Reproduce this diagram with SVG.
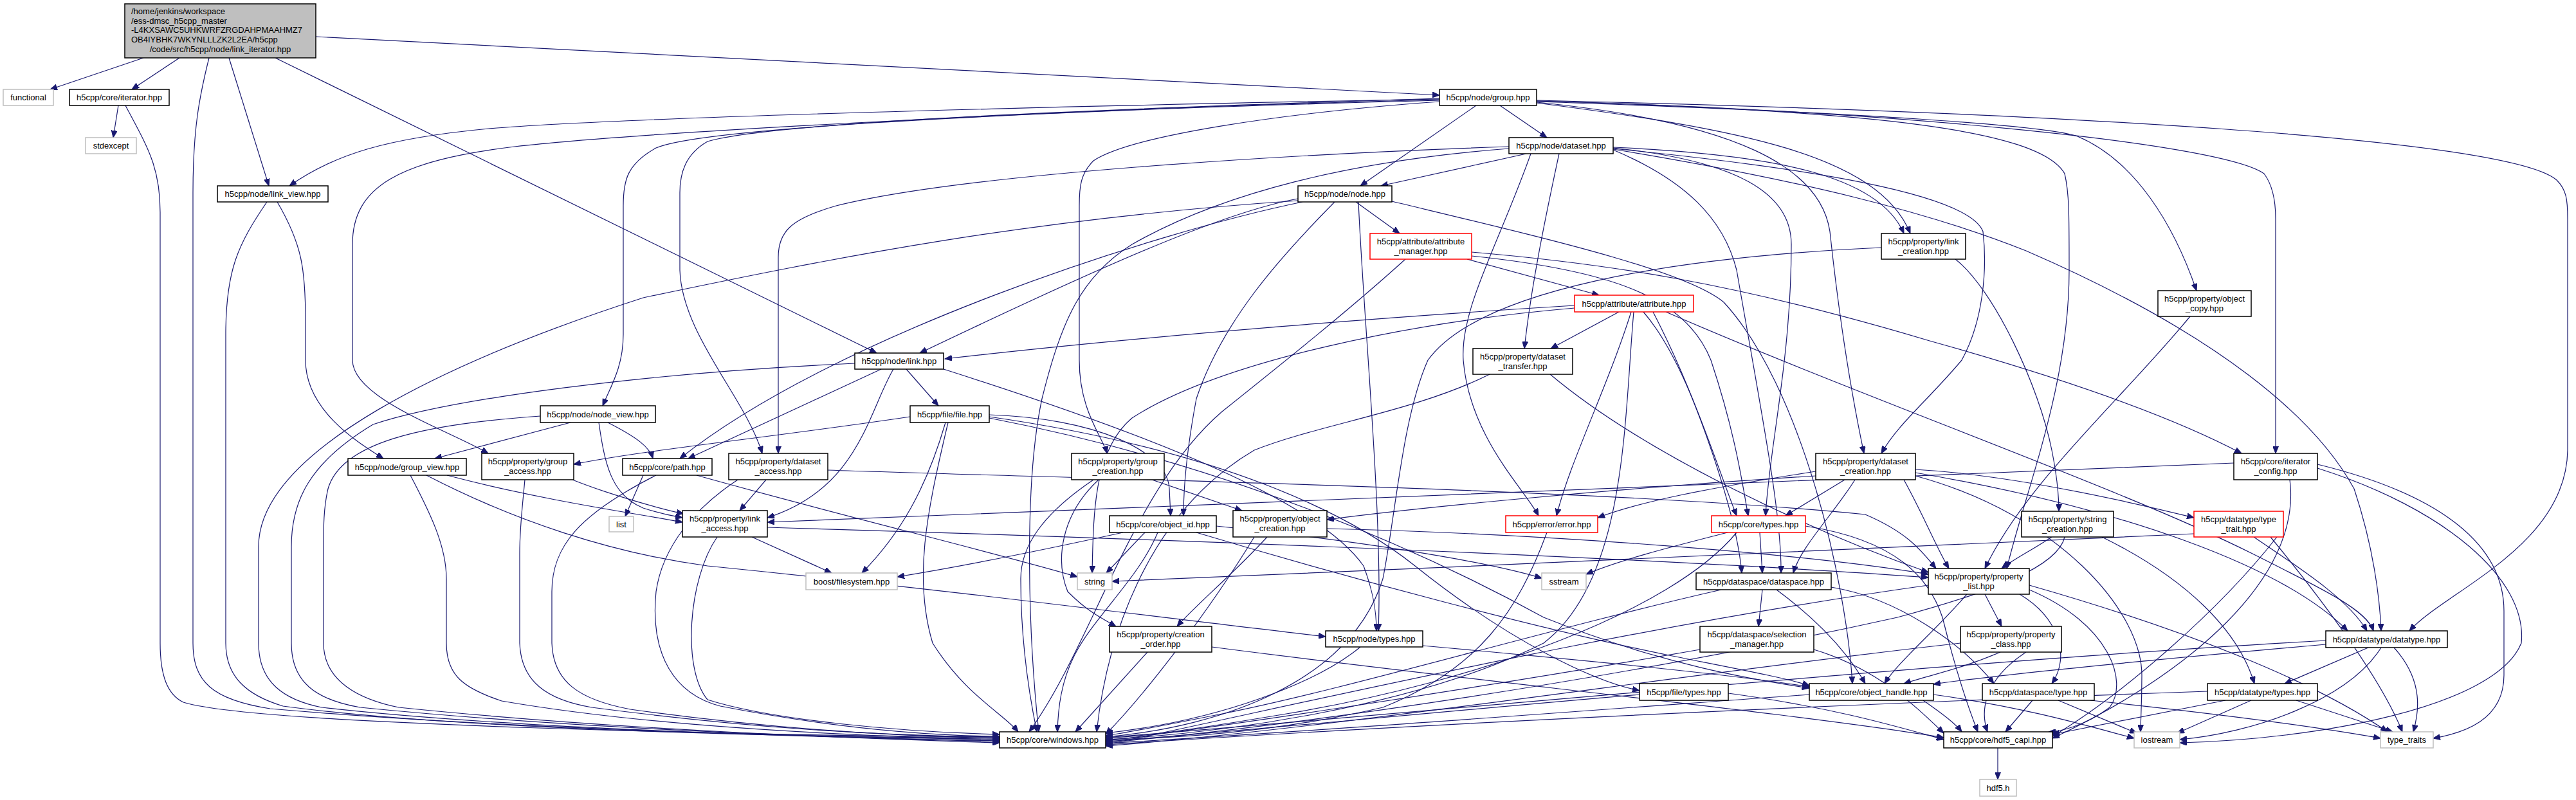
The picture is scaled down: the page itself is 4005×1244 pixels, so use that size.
<svg xmlns="http://www.w3.org/2000/svg" width="4005" height="1244" viewBox="0 0 4005 1244">
<defs>
<marker id="a" markerWidth="12" markerHeight="9" refX="11" refY="4.5" orient="auto" markerUnits="userSpaceOnUse"><path d="M0,0 L11,4.5 L0,9 z" fill="#191970" stroke="#191970" stroke-width="1"/></marker>
<style>
text{font-family:"Liberation Sans",Arial,sans-serif;font-size:13px;fill:#000;text-anchor:middle}
.n rect{fill:#fff;stroke:#000;stroke-width:1.5}
.g rect{fill:#fff;stroke:#bfbfbf;stroke-width:1.5}
.r rect{fill:#fff;stroke:#ff0000;stroke-width:1.5}
.m rect{fill:#bfbfbf;stroke:#000;stroke-width:1.5}
.m text.l{text-anchor:start}
#edges path{fill:none;stroke:#191970;stroke-width:1.2;marker-end:url(#a)}
</style>
</defs>
<rect width="4005" height="1244" fill="#fff"/>
<g id="edges">
<path d="M223,90 L78,139"/>
<path d="M279,90 L205,139"/>
<path d="M325,90 C310,150 300,200 300,300 L300,1000 C300,1060 330,1088 420,1102 C800,1135 1300,1146 1554,1150"/>
<path d="M356,90 L418,289"/>
<path d="M428,90 L1363,549"/>
<path d="M491,57 L2238,148"/>
<path d="M184,164 L176,214"/>
<path d="M195,164 C230,230 249,260 249,330 L249,1000 C249,1050 260,1080 285,1092 C400,1128 1200,1144 1554,1146"/>
<path d="M431,314 C470,380 475,420 475,500 L475,560 C475,640 560,690 596,713"/>
<path d="M415,314 C370,380 351,420 351,520 L351,1000 C351,1050 380,1080 440,1098 C700,1133 1200,1146 1554,1148"/>
<path d="M2295,164 L2115,289"/>
<path d="M2332,164 L2405,214"/>
<path d="M2238,154 C1800,162 1000,180 760,200 C600,215 520,240 450,289"/>
<path d="M2238,156 C1700,170 1100,195 1020,230 C975,255 969,280 969,320 L969,520 C969,570 950,600 937,631"/>
<path d="M2238,155 C1700,168 1000,205 800,228 C620,250 548,290 548,380 L548,560 C548,620 700,670 759,705"/>
<path d="M2238,153 C1700,170 1200,190 1100,220 C1065,240 1057,270 1057,300 L1057,420 C1060,520 1160,620 1185,705"/>
<path d="M2238,158 C2000,175 1760,210 1700,250 C1680,270 1678,290 1678,320 L1678,560 C1678,640 1715,680 1721,705"/>
<path d="M2389,160 C2700,200 2920,240 2970,363"/>
<path d="M2389,158 C2900,175 3180,195 3230,212 C3320,250 3380,350 3415,452"/>
<path d="M2389,157 C2900,170 3450,220 3520,270 C3535,290 3538,320 3538,340 L3538,705"/>
<path d="M2389,159 C2700,190 2830,260 2845,360 C2860,500 2880,620 2898,705"/>
<path d="M2389,157 C2900,172 3170,200 3210,270 C3217,300 3217,330 3217,420 C3217,600 3150,760 3120,884"/>
<path d="M2389,156 C3200,175 3900,215 3975,280 C3990,295 3992,310 3992,340 L3992,700 C3990,850 3800,920 3746,981"/>
<path d="M2373,239 L2147,289"/>
<path d="M2508,229 C2750,240 2920,270 2960,363"/>
<path d="M2346,228 C2000,240 1500,270 1300,320 C1230,340 1210,360 1210,400 L1210,705"/>
<path d="M2424,239 C2400,350 2380,450 2370,542"/>
<path d="M2380,239 C2330,380 2270,480 2275,560 C2285,680 2370,760 2392,802"/>
<path d="M2508,230 C2700,250 2785,300 2785,380 C2785,560 2750,700 2745,802"/>
<path d="M2508,231 C2800,260 3060,300 3083,360 C3090,420 3083,500 3050,560 C3000,620 2950,660 2925,705"/>
<path d="M2508,232 C2800,280 3000,330 3150,390 C3450,520 3600,650 3660,760 C3690,850 3700,930 3702,981"/>
<path d="M2508,233 C2620,280 2680,340 2700,420 C2740,650 2770,800 2769,891"/>
<path d="M2346,231 C2100,250 1900,300 1760,380 C1680,430 1650,500 1620,620 C1590,760 1600,1000 1615,1138"/>
<path d="M2108,314 L2176,363"/>
<path d="M2018,309 C1900,330 1700,420 1430,549"/>
<path d="M2025,314 C1800,360 1300,520 1057,713"/>
<path d="M2075,314 C1990,400 1900,500 1860,620 C1845,700 1840,760 1840,802"/>
<path d="M2018,312 C1600,340 1300,400 1000,463 C700,560 402,700 402,850 L402,1000 C402,1060 440,1088 500,1100 C800,1134 1300,1147 1554,1152"/>
<path d="M2112,314 C2120,500 2150,800 2143,981"/>
<path d="M2164,313 C2400,370 2620,420 2680,470 C2800,600 2870,900 2880,1063"/>
<path d="M2281,403 L2486,459"/>
<path d="M2288,392 C2500,410 2700,440 3000,530 C3250,600 3400,660 3485,705"/>
<path d="M2288,398 C2500,420 2620,460 2660,560 C2700,680 2710,760 2718,802"/>
<path d="M2185,403 C2100,480 2000,560 1900,640 C1760,760 1700,1000 1600,1138"/>
<path d="M2448,475 C2200,490 1800,520 1469,558"/>
<path d="M2448,479 C2200,500 1900,560 1760,650 C1700,700 1700,800 1698,891"/>
<path d="M2517,485 L2411,542"/>
<path d="M2536,485 C2500,600 2440,720 2420,802"/>
<path d="M2555,485 C2620,560 2660,700 2700,802"/>
<path d="M2540,485 C2525,650 2530,900 2400,1000 C2200,1100 1900,1140 1719,1150"/>
<path d="M2590,485 C2900,620 3300,760 3500,860 C3620,920 3680,950 3690,981"/>
<path d="M2570,485 C2640,620 2700,800 2708,891"/>
<path d="M3040,403 C3100,450 3170,600 3190,700 C3200,750 3201,780 3201,795"/>
<path d="M2925,385 C2600,400 2300,450 2220,560 C2180,650 2170,800 2150,900 C2100,1060 1900,1130 1719,1146"/>
<path d="M3405,492 C3300,620 3150,750 3086,884"/>
<path d="M1409,574 L1459,631"/>
<path d="M1370,574 L1070,713"/>
<path d="M1389,574 C1350,640 1335,760 1193,805"/>
<path d="M1329,565 C1000,580 700,620 580,660 C480,720 453,780 453,850 L453,1000 C453,1060 490,1088 560,1100 C900,1134 1300,1147 1554,1153"/>
<path d="M1467,574 C1800,680 2050,780 2120,880 C2135,920 2140,950 2140,981"/>
<path d="M1538,645 C1700,650 1815,700 1818,760 L1820,802"/>
<path d="M1470,657 C1440,760 1400,830 1340,891"/>
<path d="M1474,657 C1440,800 1420,900 1450,1000 C1500,1080 1560,1110 1583,1138"/>
<path d="M1415,648 C1200,680 1000,700 892,722"/>
<path d="M1538,650 C1900,720 2200,850 2400,960 C2600,1040 2750,1060 2813,1070"/>
<path d="M1538,648 C1900,700 2100,800 2200,880 C2350,1000 2480,1060 2549,1074"/>
<path d="M887,657 L676,713"/>
<path d="M945,657 C990,680 1010,695 1015,713"/>
<path d="M840,647 C650,660 530,690 510,760 C503,790 503,820 503,850 L503,1000 C503,1060 560,1088 620,1100 C950,1134 1300,1147 1554,1155"/>
<path d="M931,657 C940,720 950,770 1000,790 C1030,800 1050,803 1061,805"/>
<path d="M695,739 C850,780 1000,800 1061,812"/>
<path d="M638,739 C670,800 694,850 694,900 L694,1000 C694,1050 720,1070 780,1090 C1000,1128 1300,1144 1554,1150"/>
<path d="M663,739 C800,810 950,860 1100,880 C1500,920 1800,960 2061,990"/>
<path d="M890,746 C950,770 1030,792 1063,799"/>
<path d="M816,746 C812,790 808,820 808,860 L808,1000 C810,1060 850,1088 920,1100 C1150,1130 1350,1144 1554,1146"/>
<path d="M1000,739 L972,803"/>
<path d="M1083,739 C1300,800 1550,860 1675,897"/>
<path d="M1020,739 C900,800 858,850 858,920 L858,1000 C860,1060 900,1088 980,1103 C1200,1134 1400,1145 1554,1148"/>
<path d="M1191,746 L1150,794"/>
<path d="M1147,746 C1080,790 1030,850 1020,920 C1010,1020 1050,1080 1120,1098 C1300,1133 1450,1144 1554,1145"/>
<path d="M1287,731 C1700,745 2500,760 2900,800 C2970,830 2990,860 3010,884"/>
<path d="M1169,835 L1293,891"/>
<path d="M1193,820 C1600,832 2500,862 2998,898"/>
<path d="M1115,835 C1070,900 1060,1040 1100,1088 C1200,1120 1400,1138 1554,1142"/>
<path d="M1791,746 L1931,794"/>
<path d="M1708,746 C1650,800 1640,870 1660,920 C1690,950 1710,960 1735,974"/>
<path d="M1700,746 C1620,800 1587,850 1587,900 C1587,1000 1600,1080 1612,1138"/>
<path d="M1746,828 C1600,860 1500,880 1395,897"/>
<path d="M1780,828 L1720,891"/>
<path d="M1891,818 C2100,840 2300,870 2397,899"/>
<path d="M1800,828 C1770,900 1700,960 1670,1020 C1650,1060 1645,1100 1644,1138"/>
<path d="M1860,828 C2100,900 2400,980 2600,1020 C2700,1040 2780,1055 2813,1066"/>
<path d="M1970,835 C1920,890 1860,940 1830,974"/>
<path d="M1950,835 C1880,950 1780,1080 1719,1142"/>
<path d="M2063,822 C2400,830 2800,860 2998,893"/>
<path d="M1784,1014 L1672,1138"/>
<path d="M1884,1006 C2300,1060 2800,1110 3022,1147"/>
<path d="M2405,828 C2360,950 2300,1040 2150,1100 C2000,1135 1850,1148 1719,1150"/>
<path d="M2686,828 C2600,850 2520,870 2466,893"/>
<path d="M2736,828 L2740,891"/>
<path d="M2807,818 C2950,840 3000,900 3020,960 C3040,1040 3060,1100 3075,1138"/>
<path d="M2700,828 C2600,950 2300,1060 2000,1110 C1850,1135 1780,1145 1719,1148"/>
<path d="M2115,1006 C2050,1060 1900,1120 1719,1140"/>
<path d="M2212,1004 C2500,1030 2700,1050 2813,1068"/>
<path d="M2740,917 L2734,974"/>
<path d="M2762,917 C2820,960 2870,1010 2900,1063"/>
<path d="M2676,917 C2400,980 2100,1070 1900,1110 C1800,1130 1750,1140 1719,1144"/>
<path d="M2847,913 C2950,930 3050,1000 3100,1063"/>
<path d="M2643,1010 C2300,1070 1900,1130 1719,1152"/>
<path d="M2820,1010 C2920,1040 2980,1100 3022,1140"/>
<path d="M2549,1080 C2200,1110 1900,1140 1719,1153"/>
<path d="M2687,1078 C2850,1100 2950,1130 3022,1150"/>
<path d="M2813,1080 C2400,1110 2000,1140 1719,1156"/>
<path d="M2990,1089 C3020,1110 3040,1125 3050,1138"/>
<path d="M3006,1080 C3150,1100 3250,1130 3318,1148"/>
<path d="M3086,924 L3112,974"/>
<path d="M3058,924 C3010,980 2950,1030 2930,1063"/>
<path d="M3155,917 C3280,970 3310,1060 3280,1100 C3240,1130 3200,1138 3185,1138"/>
<path d="M2998,910 C2500,980 2000,1100 1719,1158"/>
<path d="M3140,924 C3200,960 3220,1020 3190,1063"/>
<path d="M3155,910 C3400,980 3600,1060 3712,1138"/>
<path d="M3110,1014 C3050,1040 3000,1050 2960,1063"/>
<path d="M3150,1014 C3080,1060 3080,1110 3090,1138"/>
<path d="M3048,1000 C2600,1050 2100,1130 1719,1160"/>
<path d="M3160,1089 L3118,1138"/>
<path d="M3200,1089 L3322,1140"/>
<path d="M3250,1089 C3450,1110 3600,1130 3701,1148"/>
<path d="M3682,1007 L3552,1063"/>
<path d="M3722,1007 C3770,1060 3760,1110 3752,1138"/>
<path d="M3702,1007 C3650,1090 3500,1140 3389,1150"/>
<path d="M3616,1002 C3300,1030 3100,1050 3006,1064"/>
<path d="M3616,996 C3000,1030 2200,1110 1719,1147"/>
<path d="M3460,1089 C3350,1110 3250,1130 3191,1142"/>
<path d="M3500,1089 L3385,1140"/>
<path d="M3570,1089 L3720,1138"/>
<path d="M3432,1075 C3000,1090 2300,1120 1719,1158"/>
<path d="M3106,1163 L3106,1212"/>
<path d="M3190,835 C3160,855 3130,870 3112,884"/>
<path d="M3268,835 C3400,900 3480,980 3505,1063"/>
<path d="M3210,835 C3200,880 3100,920 2950,960 C2500,1060 2000,1130 1719,1155"/>
<path d="M3504,835 C3570,880 3650,930 3680,981"/>
<path d="M3530,835 C3600,920 3700,1050 3735,1138"/>
<path d="M3540,835 C3450,950 3300,1080 3191,1145"/>
<path d="M3411,830 C3000,850 2300,880 1729,904"/>
<path d="M3473,720 C3000,740 2000,780 1193,812"/>
<path d="M3603,722 C3800,770 3893,850 3893,950 L3893,1050 C3893,1120 3830,1140 3783,1148"/>
<path d="M3603,728 C3800,790 3930,900 3920,1000 C3880,1100 3600,1150 3389,1155"/>
<path d="M3560,746 C3580,900 3400,1050 3191,1148"/>
<path d="M2823,733 C2650,760 2550,780 2484,805"/>
<path d="M2868,746 L2776,802"/>
<path d="M2823,740 C2500,760 2200,790 2063,808"/>
<path d="M2978,730 C3150,740 3350,790 3411,805"/>
<path d="M2978,735 C3300,790 3550,880 3650,981"/>
<path d="M2884,746 C2850,800 2800,850 2788,891"/>
<path d="M2960,746 C2990,800 3010,850 3030,884"/>
<path d="M2978,740 C3200,800 3330,950 3330,1050 C3330,1100 3328,1120 3328,1138"/>
<path d="M2410,582 C2550,700 2800,820 2998,890"/>
<path d="M2316,582 C2200,640 2050,660 1950,700 C1780,800 1720,1000 1705,1138"/>
</g>
<g id="n_main" class="m"><rect x="194" y="6" width="297" height="84"/><text class="l" x="204" y="21.5">/home/jenkins/workspace</text><text class="l" x="204" y="36.5">/ess-dmsc_h5cpp_master</text><text class="l" x="204" y="51">-L4KXSAWC5UHKWRFZRGDAHPMAAHMZ7</text><text class="l" x="204" y="65.5">OB4IYBHK7WKYNLLLZK2L2EA/h5cpp</text><text x="342.5" y="80.5">/code/src/h5cpp/node/link_iterator.hpp</text></g>
<g id="n_functional" class="g"><rect x="5" y="139" width="78" height="25"/><text x="44" y="156">functional</text></g>
<g id="n_iterator" class="n"><rect x="108" y="139" width="155" height="25"/><text x="185.5" y="156">h5cpp/core/iterator.hpp</text></g>
<g id="n_stdexcept" class="g"><rect x="133" y="214" width="79" height="25"/><text x="172.5" y="231">stdexcept</text></g>
<g id="n_group" class="n"><rect x="2238" y="139" width="151" height="25"/><text x="2313.5" y="156">h5cpp/node/group.hpp</text></g>
<g id="n_dataset" class="n"><rect x="2346" y="214" width="162" height="25"/><text x="2427" y="231">h5cpp/node/dataset.hpp</text></g>
<g id="n_link_view" class="n"><rect x="338" y="289" width="172" height="25"/><text x="424" y="306">h5cpp/node/link_view.hpp</text></g>
<g id="n_node" class="n"><rect x="2018" y="289" width="146" height="25"/><text x="2091" y="306">h5cpp/node/node.hpp</text></g>
<g id="n_attribute_manager" class="r"><rect x="2130" y="363" width="158" height="40"/><text x="2209" y="379.5">h5cpp/attribute/attribute</text><text x="2209" y="394.5">_manager.hpp</text></g>
<g id="n_link_creation" class="n"><rect x="2925" y="363" width="131" height="40"/><text x="2990.5" y="379.5">h5cpp/property/link</text><text x="2990.5" y="394.5">_creation.hpp</text></g>
<g id="n_attribute" class="r"><rect x="2448" y="459" width="185" height="26"/><text x="2540.5" y="476.5">h5cpp/attribute/attribute.hpp</text></g>
<g id="n_object_copy" class="n"><rect x="3355" y="452" width="145" height="40"/><text x="3427.5" y="468.5">h5cpp/property/object</text><text x="3427.5" y="483.5">_copy.hpp</text></g>
<g id="n_link" class="n"><rect x="1329" y="549" width="138" height="25"/><text x="1398" y="566">h5cpp/node/link.hpp</text></g>
<g id="n_dataset_transfer" class="n"><rect x="2290" y="542" width="155" height="40"/><text x="2367.5" y="558.5">h5cpp/property/dataset</text><text x="2367.5" y="573.5">_transfer.hpp</text></g>
<g id="n_node_view" class="n"><rect x="840" y="631" width="179" height="26"/><text x="929.5" y="648.5">h5cpp/node/node_view.hpp</text></g>
<g id="n_file" class="n"><rect x="1415" y="631" width="123" height="26"/><text x="1476.5" y="648.5">h5cpp/file/file.hpp</text></g>
<g id="n_group_view" class="n"><rect x="541" y="713" width="184" height="26"/><text x="633" y="730.5">h5cpp/node/group_view.hpp</text></g>
<g id="n_group_access" class="n"><rect x="749" y="705" width="143" height="41"/><text x="820.5" y="721.5">h5cpp/property/group</text><text x="820.5" y="736.5">_access.hpp</text></g>
<g id="n_path" class="n"><rect x="968" y="713" width="139" height="26"/><text x="1037.5" y="730.5">h5cpp/core/path.hpp</text></g>
<g id="n_dataset_access" class="n"><rect x="1133" y="705" width="154" height="41"/><text x="1210" y="721.5">h5cpp/property/dataset</text><text x="1210" y="736.5">_access.hpp</text></g>
<g id="n_group_creation" class="n"><rect x="1666" y="705" width="144" height="41"/><text x="1738" y="721.5">h5cpp/property/group</text><text x="1738" y="736.5">_creation.hpp</text></g>
<g id="n_dataset_creation" class="n"><rect x="2823" y="705" width="155" height="41"/><text x="2900.5" y="721.5">h5cpp/property/dataset</text><text x="2900.5" y="736.5">_creation.hpp</text></g>
<g id="n_iterator_config" class="n"><rect x="3473" y="705" width="130" height="41"/><text x="3538" y="721.5">h5cpp/core/iterator</text><text x="3538" y="736.5">_config.hpp</text></g>
<g id="n_list" class="g"><rect x="947" y="803" width="38" height="24"/><text x="966" y="819.5">list</text></g>
<g id="n_link_access" class="n"><rect x="1061" y="794" width="132" height="41"/><text x="1127" y="810.5">h5cpp/property/link</text><text x="1127" y="825.5">_access.hpp</text></g>
<g id="n_object_id" class="n"><rect x="1725" y="802" width="166" height="26"/><text x="1808" y="819.5">h5cpp/core/object_id.hpp</text></g>
<g id="n_object_creation" class="n"><rect x="1917" y="794" width="146" height="41"/><text x="1990" y="810.5">h5cpp/property/object</text><text x="1990" y="825.5">_creation.hpp</text></g>
<g id="n_error" class="r"><rect x="2341" y="802" width="143" height="26"/><text x="2412.5" y="819.5">h5cpp/error/error.hpp</text></g>
<g id="n_types" class="r"><rect x="2661" y="802" width="146" height="26"/><text x="2734" y="819.5">h5cpp/core/types.hpp</text></g>
<g id="n_string_creation" class="n"><rect x="3143" y="795" width="143" height="40"/><text x="3214.5" y="811.5">h5cpp/property/string</text><text x="3214.5" y="826.5">_creation.hpp</text></g>
<g id="n_type_trait" class="r"><rect x="3411" y="795" width="139" height="40"/><text x="3480.5" y="811.5">h5cpp/datatype/type</text><text x="3480.5" y="826.5">_trait.hpp</text></g>
<g id="n_filesystem" class="g"><rect x="1253" y="891" width="142" height="26"/><text x="1324" y="908.5">boost/filesystem.hpp</text></g>
<g id="n_string" class="g"><rect x="1675" y="891" width="54" height="26"/><text x="1702" y="908.5">string</text></g>
<g id="n_sstream" class="g"><rect x="2397" y="891" width="69" height="26"/><text x="2431.5" y="908.5">sstream</text></g>
<g id="n_dataspace" class="n"><rect x="2637" y="891" width="210" height="26"/><text x="2742" y="908.5">h5cpp/dataspace/dataspace.hpp</text></g>
<g id="n_property_list" class="n"><rect x="2998" y="884" width="157" height="40"/><text x="3076.5" y="900.5">h5cpp/property/property</text><text x="3076.5" y="915.5">_list.hpp</text></g>
<g id="n_creation_order" class="n"><rect x="1725" y="974" width="159" height="40"/><text x="1804.5" y="990.5">h5cpp/property/creation</text><text x="1804.5" y="1005.5">_order.hpp</text></g>
<g id="n_node_types" class="n"><rect x="2061" y="981" width="151" height="25"/><text x="2136.5" y="998">h5cpp/node/types.hpp</text></g>
<g id="n_selection_manager" class="n"><rect x="2643" y="974" width="177" height="40"/><text x="2731.5" y="990.5">h5cpp/dataspace/selection</text><text x="2731.5" y="1005.5">_manager.hpp</text></g>
<g id="n_property_class" class="n"><rect x="3048" y="974" width="157" height="40"/><text x="3126.5" y="990.5">h5cpp/property/property</text><text x="3126.5" y="1005.5">_class.hpp</text></g>
<g id="n_datatype" class="n"><rect x="3616" y="981" width="189" height="26"/><text x="3710.5" y="998.5">h5cpp/datatype/datatype.hpp</text></g>
<g id="n_file_types" class="n"><rect x="2549" y="1063" width="138" height="26"/><text x="2618" y="1080.5">h5cpp/file/types.hpp</text></g>
<g id="n_object_handle" class="n"><rect x="2813" y="1063" width="193" height="26"/><text x="2909.5" y="1080.5">h5cpp/core/object_handle.hpp</text></g>
<g id="n_dataspace_type" class="n"><rect x="3082" y="1063" width="174" height="26"/><text x="3169" y="1080.5">h5cpp/dataspace/type.hpp</text></g>
<g id="n_datatype_types" class="n"><rect x="3432" y="1063" width="171" height="26"/><text x="3517.5" y="1080.5">h5cpp/datatype/types.hpp</text></g>
<g id="n_windows" class="n"><rect x="1554" y="1138" width="165" height="25"/><text x="1636.5" y="1155">h5cpp/core/windows.hpp</text></g>
<g id="n_hdf5_capi" class="n"><rect x="3022" y="1138" width="169" height="25"/><text x="3106.5" y="1155">h5cpp/core/hdf5_capi.hpp</text></g>
<g id="n_iostream" class="g"><rect x="3318" y="1138" width="71" height="25"/><text x="3353.5" y="1155">iostream</text></g>
<g id="n_type_traits" class="g"><rect x="3701" y="1138" width="82" height="25"/><text x="3742" y="1155">type_traits</text></g>
<g id="n_hdf5h" class="g"><rect x="3078" y="1212" width="57" height="26"/><text x="3106.5" y="1229.5">hdf5.h</text></g>
</svg>
